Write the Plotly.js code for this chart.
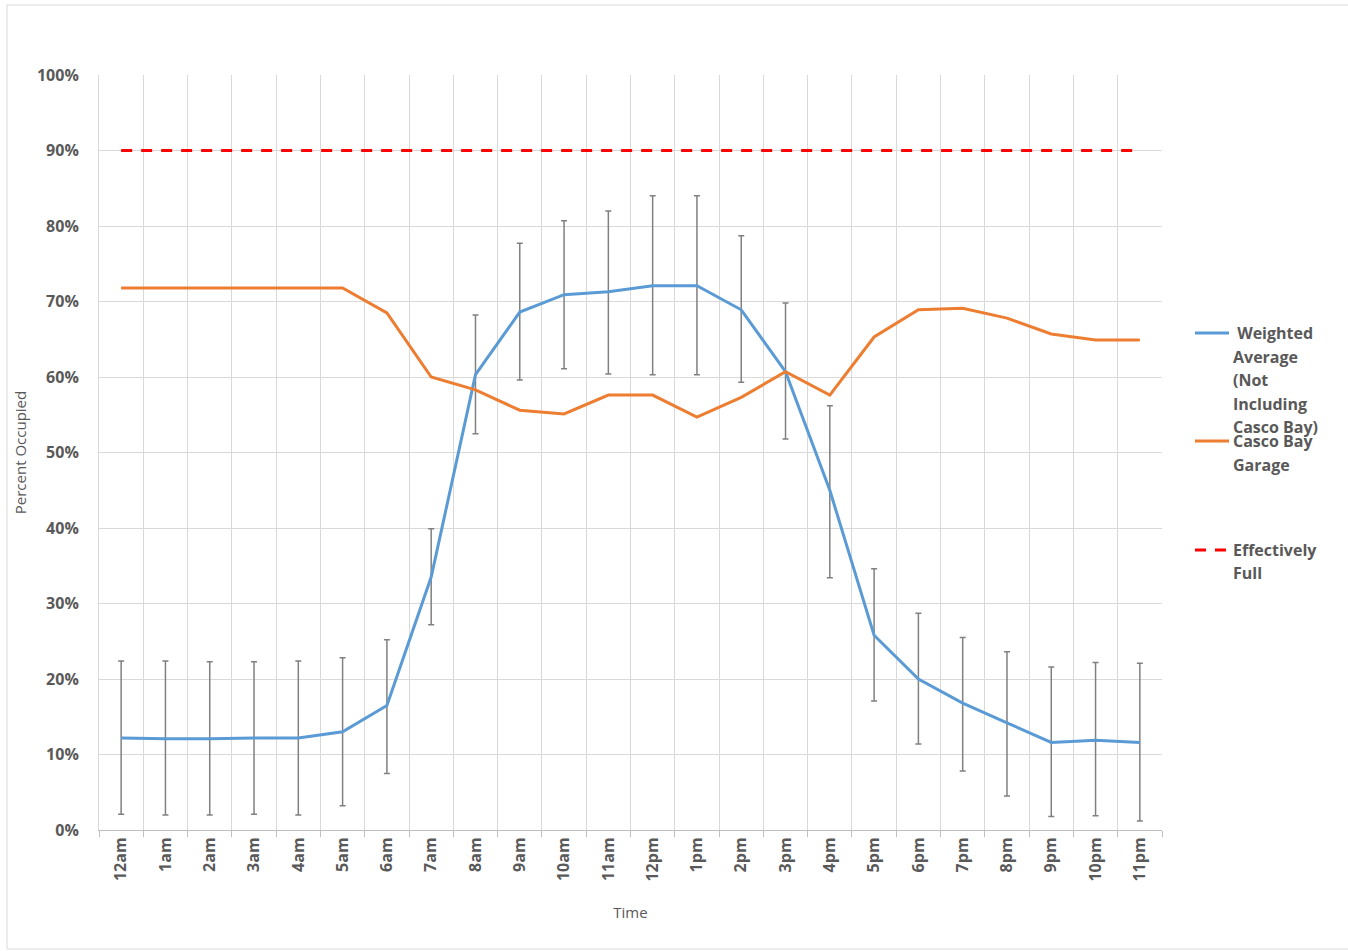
<!DOCTYPE html>
<html>
<head>
<meta charset="utf-8">
<script src="https://cdn.plot.ly/plotly-3.0.1.min.js"></script>
<style>html,body{margin:0;padding:0;background:#fff;}#chart{width:1348px;height:951px;}</style>
</head>
<body>
<div id="chart"></div>
<script>
const hours = ['12am','1am','2am','3am','4am','5am','6am','7am','8am','9am','10am','11am','12pm','1pm','2pm','3pm','4pm','5pm','6pm','7pm','8pm','9pm','10pm','11pm'];
const weightedAvg = [12.2,12.1,12.1,12.2,12.2,13.0,16.5,33.5,60.3,68.6,70.9,71.3,72.1,72.1,68.9,60.7,45.0,25.8,20.0,16.8,14.2,11.6,11.9,11.6];
const weightedHigh = [22.4,22.4,22.3,22.3,22.4,22.8,25.2,39.9,68.2,77.7,80.7,82.0,84.0,84.0,78.7,69.8,56.2,34.6,28.7,25.5,23.6,21.6,22.2,22.1];
const weightedLow = [2.1,2.0,2.0,2.1,2.0,3.2,7.5,27.2,52.5,59.6,61.1,60.4,60.3,60.3,59.3,51.8,33.4,17.1,11.4,7.8,4.5,1.8,1.9,1.2];
const cascoBay = [71.8,71.8,71.8,71.8,71.8,71.8,68.5,60.0,58.3,55.6,55.1,57.6,57.6,54.7,57.3,60.7,57.6,65.3,68.9,69.1,67.8,65.7,64.9,64.9];
const effectivelyFull = hours.map(() => 90);
const legendNames = ['Weighted Average (Not Including Casco Bay)', 'Casco Bay Garage', 'Effectively Full'];

const errPlus = weightedHigh.map((h, i) => +(h - weightedAvg[i]).toFixed(2));
const errMinus = weightedLow.map((l, i) => +(weightedAvg[i] - l).toFixed(2));

const BLUE = '#5b9bd5', ORANGE = '#ed7d31', RED = '#ff0000';
const TXT = '#595959';
const FONT = 'Open Sans, Liberation Sans, sans-serif';

const traces = [
  {x: hours, y: weightedAvg, type: 'scatter', mode: 'lines', name: legendNames[0], showlegend: false,
   line: {color: BLUE, width: 3},
   error_y: {type: 'data', symmetric: false, array: errPlus, arrayminus: errMinus, color: '#808080', thickness: 1.5, width: 3}},
  {x: hours, y: cascoBay, type: 'scatter', mode: 'lines', name: legendNames[1], showlegend: false,
   line: {color: ORANGE, width: 3}},
  {x: hours, y: effectivelyFull, type: 'scatter', mode: 'lines', name: legendNames[2], showlegend: false,
   line: {color: RED, width: 3, dash: '11px,9px'}}
];

// plot area geometry in pixels
const L = 99, R = 1162, T = 75, B = 830;
const W = 1348, H = 951;
const px = v => (v - L) / (R - L);
const py = v => (B - v) / (B - T);

const shapes = [
  {type: 'rect', xref: 'paper', yref: 'paper', x0: px(7), x1: px(1352), y0: py(949), y1: py(5), line: {color: '#d9d9d9', width: 1}},
  {type: 'line', xref: 'paper', yref: 'paper', x0: px(1195), x1: px(1229), y0: py(333), y1: py(333), line: {color: BLUE, width: 3}},
  {type: 'line', xref: 'paper', yref: 'paper', x0: px(1195), x1: px(1229), y0: py(441), y1: py(441), line: {color: ORANGE, width: 3}},
  {type: 'line', xref: 'paper', yref: 'paper', x0: px(1195), x1: px(1229), y0: py(550), y1: py(550), line: {color: RED, width: 3, dash: '11px,9px'}}
];

const legendLines = [
  [' Weighted', 333], ['Average', 357], ['(Not', 380], ['Including', 404], ['Casco Bay)', 427],
  ['Casco Bay', 441], ['Garage', 465],
  ['Effectively', 550], ['Full', 573]
];
const annotations = legendLines.map(([t, y]) => ({
  text: t, xref: 'paper', yref: 'paper', x: px(1231), y: py(y), xanchor: 'left', yanchor: 'middle',
  showarrow: false, font: {family: FONT, size: 16, color: TXT, weight: 'bold'}
}));

const layout = {
  width: W, height: H,
  margin: {l: L, r: W - R, t: T, b: H - B, pad: 0},
  paper_bgcolor: '#ffffff', plot_bgcolor: '#ffffff',
  font: {family: FONT, color: TXT},
  showlegend: false,
  xaxis: {
    type: 'category', range: [-0.5, 23.5], tickson: 'boundaries',
    showgrid: true, gridcolor: '#d9d9d9', gridwidth: 1,
    showline: true, linecolor: '#bfbfbf', linewidth: 1,
    ticks: 'outside', ticklen: 6, tickcolor: '#bfbfbf',
    tickangle: -90, tickfont: {family: FONT, size: 16, color: TXT, weight: 'bold'},
    title: {text: 'Time', font: {family: FONT, size: 15, color: TXT}, standoff: 26},
    zeroline: false, fixedrange: true
  },
  yaxis: {
    range: [0, 100], dtick: 10, ticksuffix: '%',
    showgrid: true, gridcolor: '#d9d9d9', gridwidth: 1,
    showline: true, linecolor: '#d9d9d9', linewidth: 1,
    ticks: '', zeroline: false, ticklabelstandoff: 16,
    tickfont: {family: FONT, size: 16, color: TXT, weight: 'bold'},
    title: {text: 'Percent Occupied', font: {family: FONT, size: 15, color: TXT}, standoff: 6},
    fixedrange: true
  },
  shapes: shapes,
  annotations: annotations
};

Plotly.newPlot('chart', traces, layout, {displayModeBar: false, staticPlot: true});
</script>
</body>
</html>
